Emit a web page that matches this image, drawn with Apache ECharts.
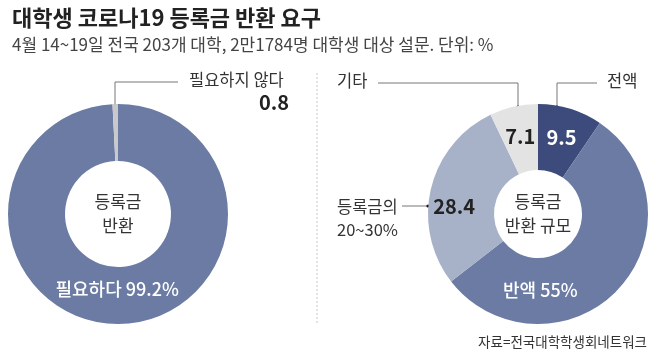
<!DOCTYPE html>
<html><head><meta charset="utf-8">
<script src="https://cdn.jsdelivr.net/npm/echarts@6/dist/echarts.min.js"></script>
<style>html,body{margin:0;padding:0;background:#fff}#c{width:668px;height:357px}</style>
</head><body><div id="c"></div>
<script>
const title = '대학생 코로나19 등록금 반환 요구';
const subtitle = '4월 14~19일 전국 203개 대학, 2만1784명 대학생 대상 설문. 단위: %';
const source = '자료=전국대학학생회네트워크';

const leftNames = ['필요하다', '필요하지 않다'];
const leftValues = [99.2, 0.8];
const leftCenter = '등록금\n반환';

const rightNames = ['전액', '반액', '등록금의\n20~30%', '기타'];
const rightValues = [9.5, 55, 28.4, 7.1];
const rightCenter = '등록금\n반환 규모';

const FONT = '"Noto Sans CJK KR", "Noto Sans", sans-serif';
const leftColors = ['#6b7ba3', '#c9c9cb'];
const rightColors = ['#3c4b7c', '#6b7ba3', '#a7b2c8', '#e3e3e3'];

const chart = echarts.init(document.getElementById('c'));

const lbl = (c, w, fs) => ({ show: true, color: c, fontWeight: w, fontSize: fs, fontFamily: FONT });

chart.setOption({
  animation: false,
  backgroundColor: '#fff',
  title: [
    { text: title, left: 7, top: 2, textStyle: { fontFamily: FONT, fontSize: 22, fontWeight: 'bold', color: '#222' } },
    { text: subtitle, left: 7, top: 31, textStyle: { fontFamily: FONT, fontSize: 17, fontWeight: 'normal', color: '#444' } }
  ],
  series: [
    {
      type: 'pie', center: [118, 214], radius: [53, 110], startAngle: 90, clockwise: true,
      silent: true, labelLine: { show: false },
      data: [
        { name: leftNames[0], value: leftValues[0], itemStyle: { color: leftColors[0] },
          label: Object.assign(lbl('#fff', 500, 18), { position: 'inside', offset: [-3, -9],
            formatter: p => p.name + ' ' + p.value + '%' }) },
        { name: leftNames[1], value: leftValues[1], itemStyle: { color: leftColors[1] }, label: { show: false } }
      ]
    },
    {
      type: 'pie', center: [118, 214], radius: [0, 0], silent: true,
      label: { show: true, position: 'center', formatter: leftCenter, color: '#333', fontSize: 17, lineHeight: 24, fontFamily: FONT },
      labelLine: { show: false },
      data: [{ value: 1, name: 'c', itemStyle: { color: 'transparent' } }]
    },
    {
      type: 'pie', center: [538, 214], radius: [44, 110], startAngle: 90, clockwise: true,
      silent: true, labelLine: { show: false },
      data: [
        { name: rightNames[0], value: rightValues[0], itemStyle: { color: rightColors[0] },
          label: Object.assign(lbl('#fff', 'bold', 20), { position: 'inside', formatter: p => p.value }) },
        { name: rightNames[1], value: rightValues[1], itemStyle: { color: rightColors[1] },
          label: Object.assign(lbl('#fff', 500, 18), { position: 'inside', offset: [-56, 21],
            formatter: p => p.name + ' ' + p.value + '%' }) },
        { name: rightNames[2], value: rightValues[2], itemStyle: { color: rightColors[2] },
          label: Object.assign(lbl('#222', 'bold', 20), { position: 'inside', offset: [-6, 11], formatter: p => p.value }) },
        { name: rightNames[3], value: rightValues[3], itemStyle: { color: rightColors[3] },
          label: Object.assign(lbl('#222', 'bold', 20), { position: 'inside', formatter: p => p.value }) }
      ]
    },
    {
      type: 'pie', center: [538, 214], radius: [0, 0], silent: true,
      label: { show: true, position: 'center', formatter: rightCenter, color: '#333', fontSize: 17, lineHeight: 24, fontFamily: FONT },
      labelLine: { show: false },
      data: [{ value: 1, name: 'c', itemStyle: { color: 'transparent' } }]
    }
  ],
  graphic: [
    { type: 'line', shape: { x1: 317, y1: 73, x2: 317, y2: 323 }, style: { stroke: '#c8c8c8', lineWidth: 1, lineDash: [2, 2] } },
    { type: 'polyline', shape: { points: [[178, 82], [115, 82], [115, 106]] }, style: { stroke: '#777', lineWidth: 1, fill: null } },
    { type: 'circle', shape: { cx: 115, cy: 106, r: 1.6 }, style: { fill: '#111' } },
    { type: 'text', left: 189, top: 71, style: { text: leftNames[1], font: '16.5px ' + FONT, fill: '#333' } },
    { type: 'text', right: 668 - 289, top: 92, style: { text: String(leftValues[1]), font: 'bold 20px ' + FONT, fill: '#222', textAlign: 'right' } },
    { type: 'polyline', shape: { points: [[378, 83], [518, 83], [518, 107]] }, style: { stroke: '#777', lineWidth: 1, fill: null } },
    { type: 'circle', shape: { cx: 518, cy: 107, r: 1.6 }, style: { fill: '#111' } },
    { type: 'text', left: 337, top: 72, style: { text: rightNames[3], font: '16.5px ' + FONT, fill: '#333' } },
    { type: 'polyline', shape: { points: [[597, 83], [557, 83], [557, 107]] }, style: { stroke: '#777', lineWidth: 1, fill: null } },
    { type: 'circle', shape: { cx: 557, cy: 107, r: 1.6 }, style: { fill: '#111' } },
    { type: 'text', left: 607, top: 72, style: { text: rightNames[0], font: '16.5px ' + FONT, fill: '#333' } },
    { type: 'line', shape: { x1: 402, y1: 206, x2: 428, y2: 206 }, style: { stroke: '#777', lineWidth: 1 } },
    { type: 'circle', shape: { cx: 428, cy: 206, r: 1.6 }, style: { fill: '#111' } },
    { type: 'text', left: 337, top: 195, style: { text: rightNames[2], font: '16.5px ' + FONT, fill: '#333', lineHeight: 23 } },
    { type: 'text', right: 21, top: 335, style: { text: source, font: '13.5px ' + FONT, fill: '#333' } }
  ]
});
</script></body></html>
